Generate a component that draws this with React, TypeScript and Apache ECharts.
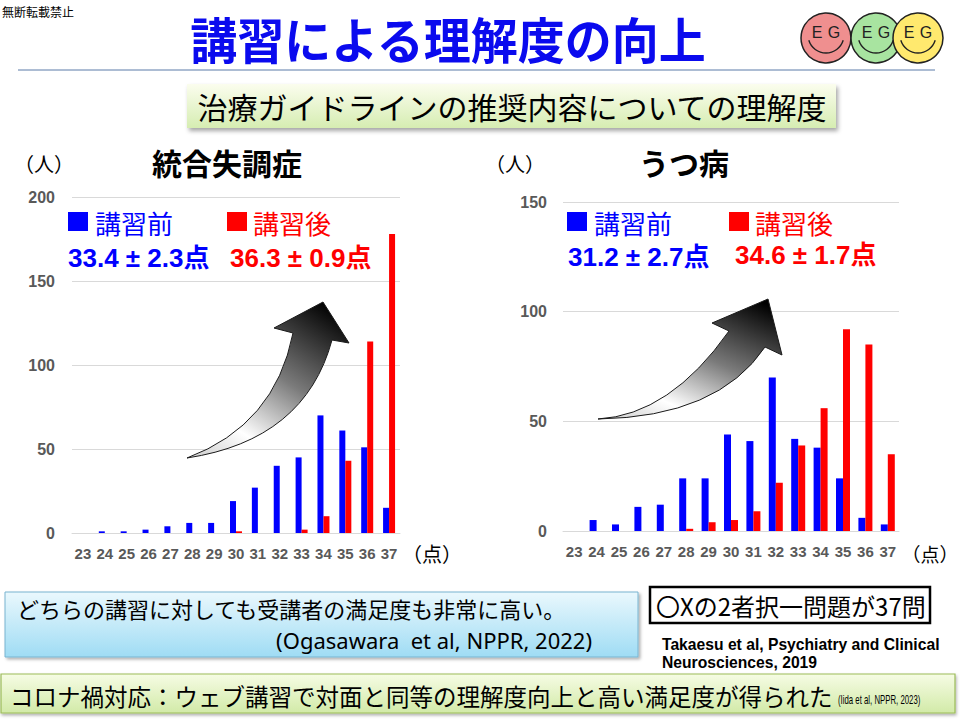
import React, { useEffect, useRef } from 'react';
import * as echarts from 'echarts';

const categories = ['23', '24', '25', '26', '27', '28', '29', '30', '31', '32', '33', '34', '35', '36', '37'];
const schizoBefore = [0, 1, 1, 2, 4, 6, 6, 19, 27, 40, 45, 70, 61, 51, 15];
const schizoAfter = [0, 0, 0, 0, 0, 0, 0, 1, 0, 0, 2, 10, 43, 114, 178];
const deprBefore = [0, 5, 3, 11, 12, 24, 24, 44, 41, 70, 42, 38, 24, 6, 3];
const deprAfter = [0, 0, 0, 0, 0, 1, 4, 5, 9, 22, 39, 56, 92, 85, 35];
const schizoMax = 200;
const deprMax = 150;
const tickStep = 50;

const JP = '"Noto Sans CJK JP", "Noto Sans", sans-serif';
const LAT = '"Liberation Sans", Arial, "Noto Sans CJK JP", sans-serif';
const BLUE = '#0000ff';
const RED = '#ff0000';

const arrowLeftD = 'M187 458 Q275 425 293 333 L274 328 L323 302 L349 343 L332 340 Q305 440 187 458 Z';
const arrowRightD = 'M598 419 Q670 415 729 331 L712 323 L768 299 L782 355 L765 347 Q718 417 598 419 Z';

function txt(text: string, x: number, y: number, o: any = {}) {
  const align = o.align || 'left';
  const va = o.va || 'middle';
  const el: any = {
    type: 'text',
    x,
    y,
    z: o.z || 10,
    style: {
      text,
      fill: o.fill || '#000',
      fontSize: o.size || 16,
      fontWeight: o.weight || 'normal',
      fontFamily: o.family || JP,
      align,
      verticalAlign: va,
      textAlign: align,
      textVerticalAlign: va,
    },
  };
  if (o.sx) el.scaleX = o.sx;
  if (o.sy) el.scaleY = o.sy;
  return el;
}

function face(cx: number, cy: number, color: string) {
  return [
    { type: 'circle', z: 5, shape: { cx, cy, r: 25 }, style: { fill: color, stroke: '#222', lineWidth: 1.5 } },
    txt('E', cx - 9, cy - 6, { size: 16, family: LAT, align: 'center', z: 6, fill: '#222' }),
    txt('G', cx + 8, cy - 6, { size: 16, family: LAT, align: 'center', z: 6, fill: '#222' }),
    { type: 'arc', z: 6, shape: { cx, cy: cy - 3, r: 18, startAngle: 0.3, endAngle: Math.PI - 0.3, clockwise: true }, style: { stroke: '#222', lineWidth: 1.4, fill: 'none' } },
  ];
}

export default function App() {
  const ref = useRef<HTMLDivElement>(null);
  useEffect(() => {
    if (!ref.current) return;
    echarts.graphic.registerShape('arrowL', echarts.graphic.extendPath(arrowLeftD, {}));
    echarts.graphic.registerShape('arrowR', echarts.graphic.extendPath(arrowRightD, {}));
    const chart = echarts.init(ref.current, null, { renderer: 'svg' });

    const arrowFill = () =>
      new echarts.graphic.LinearGradient(0.85, 0, 0.15, 1, [
        { offset: 0, color: '#000000' },
        { offset: 0.45, color: '#7a7a7a' },
        { offset: 0.8, color: '#ffffff' },
        { offset: 1, color: '#d8d8d8' },
      ]);

    const xAxisBase = (gridIndex: number) => ({
      gridIndex,
      type: 'category',
      data: categories,
      axisTick: { show: false },
      axisLine: { lineStyle: { color: '#d9d9d9', width: 1 } },
      axisLabel: { interval: 0, color: '#595959', fontWeight: 'bold', fontSize: 15, margin: 13, fontFamily: LAT },
    });
    const yAxisBase = (gridIndex: number, max: number, margin: number) => ({
      gridIndex,
      type: 'value',
      min: 0,
      max,
      interval: tickStep,
      axisLine: { show: false },
      axisTick: { show: false },
      splitLine: { lineStyle: { color: '#d9d9d9', width: 1 } },
      axisLabel: { color: '#595959', fontWeight: 'bold', fontSize: 16, margin, fontFamily: LAT },
    });

    const option: any = {
      animation: false,
      backgroundColor: '#ffffff',
      grid: [
        { left: 72, top: 197, width: 328, height: 336, containLabel: false, outerBoundsMode: 'none' },
        { left: 563, top: 202, width: 336, height: 329, containLabel: false, outerBoundsMode: 'none' },
      ],
      xAxis: [xAxisBase(0), xAxisBase(1)],
      yAxis: [yAxisBase(0, schizoMax, 17), yAxisBase(1, deprMax, 16)],
      series: [
        { name: '講習前', type: 'bar', xAxisIndex: 0, yAxisIndex: 0, data: schizoBefore, barWidth: 6, barGap: '0%', itemStyle: { color: BLUE } },
        { name: '講習後', type: 'bar', xAxisIndex: 0, yAxisIndex: 0, data: schizoAfter, barWidth: 6, barGap: '0%', itemStyle: { color: RED } },
        { name: '講習前', type: 'bar', xAxisIndex: 1, yAxisIndex: 1, data: deprBefore, barWidth: 7, barGap: '0%', itemStyle: { color: BLUE } },
        { name: '講習後', type: 'bar', xAxisIndex: 1, yAxisIndex: 1, data: deprAfter, barWidth: 7, barGap: '0%', itemStyle: { color: RED } },
      ],
      graphic: [
        txt('無断転載禁止', 2, 11, { size: 12 }),
        txt('講習による理解度の向上', 448, 37, { size: 47, weight: 'bold', fill: '#0a0aee', align: 'center', sy: 1.05 }),
        { type: 'line', shape: { x1: 18, y1: 70, x2: 935, y2: 70 }, style: { stroke: '#5b7aa8', lineWidth: 1 } },
        ...face(826, 38, '#ef8f8f'),
        ...face(876, 38, '#a8e4a0'),
        ...face(918, 38, '#ffe96e'),
        {
          type: 'rect', shape: { x: 187, y: 84, width: 649, height: 44 },
          style: {
            fill: new echarts.graphic.LinearGradient(0, 0, 0, 1, [{ offset: 0, color: '#fbfdee' }, { offset: 1, color: '#d6edb2' }]),
            stroke: 'none', shadowBlur: 4, shadowOffsetX: 2, shadowOffsetY: 3, shadowColor: 'rgba(0,0,0,0.35)',
          },
        },
        txt('治療ガイドラインの推奨内容についての理解度', 512, 106, { size: 30, align: 'center' }),
        // chart headers
        txt('（人）', 44, 163, { size: 20, align: 'center' }),
        txt('統合失調症', 227, 162, { size: 30, weight: 'bold', align: 'center' }),
        txt('（人）', 515, 163, { size: 20, align: 'center' }),
        txt('うつ病', 684, 162, { size: 30, weight: 'bold', align: 'center' }),
        txt('（点）', 432, 553, { size: 20, align: 'center' }),
        txt('（点）', 930, 553, { size: 19, align: 'center' }),
        // legends left
        { type: 'rect', z: 10, shape: { x: 68, y: 212, width: 20, height: 19 }, style: { fill: BLUE } },
        txt('講習前', 95, 222, { size: 26, fill: BLUE }),
        { type: 'rect', z: 10, shape: { x: 227, y: 212, width: 20, height: 19 }, style: { fill: RED } },
        txt('講習後', 253, 222, { size: 26, fill: RED }),
        txt('33.4 ± 2.3点', 68, 258, { size: 26, weight: 'bold', fill: BLUE, family: LAT }),
        txt('36.3 ± 0.9点', 230, 258, { size: 26, weight: 'bold', fill: RED, family: LAT }),
        // legends right
        { type: 'rect', z: 10, shape: { x: 567, y: 212, width: 20, height: 19 }, style: { fill: BLUE } },
        txt('講習前', 594, 222, { size: 26, fill: BLUE }),
        { type: 'rect', z: 10, shape: { x: 729, y: 212, width: 20, height: 19 }, style: { fill: RED } },
        txt('講習後', 755, 222, { size: 26, fill: RED }),
        txt('31.2 ± 2.7点', 568, 257, { size: 26, weight: 'bold', fill: BLUE, family: LAT }),
        txt('34.6 ± 1.7点', 735, 255, { size: 26, weight: 'bold', fill: RED, family: LAT }),
        // arrows
        { type: 'arrowL', z: 8, x: 0, y: 0, style: { fill: arrowFill(), stroke: '#1a1a1a', lineWidth: 1 } },
        { type: 'arrowR', z: 8, x: 0, y: 0, style: { fill: arrowFill(), stroke: '#1a1a1a', lineWidth: 1 } },
        // bottom box 1
        {
          type: 'rect', shape: { x: 5, y: 592, width: 633, height: 65 },
          style: {
            fill: new echarts.graphic.LinearGradient(0, 0, 0, 1, [{ offset: 0, color: '#eaf8fd' }, { offset: 1, color: '#9fdcf4' }]),
            stroke: '#79b4d0', lineWidth: 1, shadowBlur: 3, shadowOffsetX: 2, shadowOffsetY: 2, shadowColor: 'rgba(0,0,0,0.3)',
          },
        },
        txt('どちらの講習に対しても受講者の満足度も非常に高い。', 17, 608, { size: 22 }),
        txt('(Ogasawara  et al, NPPR, 2022)', 592, 640, { size: 22, align: 'right', family: '"Noto Sans", "Open Sans", sans-serif' }),
        // box 2
        { type: 'rect', shape: { x: 650, y: 587, width: 280, height: 36 }, style: { fill: '#fff', stroke: '#000', lineWidth: 2.5 } },
        txt('〇Xの2者択一問題が37問', 656, 605, { size: 24 }),
        txt('Takaesu et al, Psychiatry and Clinical', 662, 644, { size: 16, weight: 'bold', family: LAT, sx: 0.98 }),
        txt('Neurosciences, 2019', 662, 662, { size: 16, weight: 'bold', family: LAT, sx: 0.98 }),
        // box 3
        {
          type: 'rect', shape: { x: 1, y: 674, width: 954, height: 39 },
          style: {
            fill: new echarts.graphic.LinearGradient(0, 0, 0, 1, [{ offset: 0, color: '#f6fce4' }, { offset: 1, color: '#d2eaa8' }]),
            stroke: '#9bbb59', lineWidth: 1.2, shadowBlur: 3, shadowOffsetX: 1, shadowOffsetY: 2, shadowColor: 'rgba(0,0,0,0.3)',
          },
        },
        txt('コロナ禍対応：ウェブ講習で対面と同等の理解度向上と高い満足度が得られた', 10, 696, { size: 23.5 }),
        txt('(Iida et al, NPPR, 2023)', 838, 699, { size: 13, family: LAT, sx: 0.6 }),
      ],
    };
    chart.setOption(option);
    return () => chart.dispose();
  }, []);
  return <div ref={ref} style={{ position: 'absolute', left: 0, top: 0, width: 960, height: 720, background: '#fff' }} />;
}
